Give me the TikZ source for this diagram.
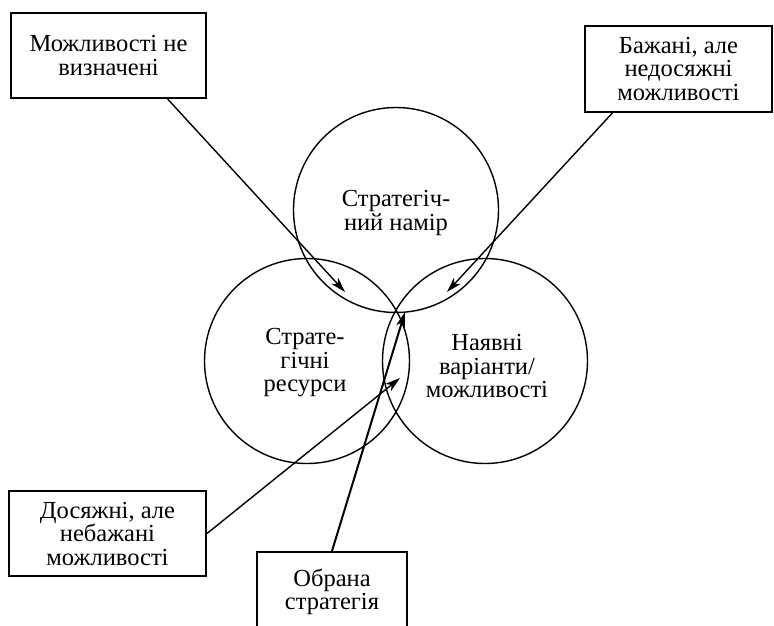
\documentclass[tikz,border=0pt]{standalone}
\usepackage{fontspec}
\setmainfont{Liberation Serif}
\usetikzlibrary{arrows.meta,calc}
\begin{document}
\begin{tikzpicture}[x=1pt,y=-1pt,
  ring/.style={draw,circle,line width=1.4pt,minimum size=205pt,inner sep=0pt,align=center},
  labelbox/.style={draw,line width=2pt,rectangle,inner sep=0pt,align=center},
  conn/.style={line width=1.4pt,-{Stealth[length=15pt,width=9pt,inset=4pt]}},
  connthick/.style={line width=2pt,-{Stealth[length=15pt,width=9pt,inset=4pt]}},
  every node/.style={font=\fontsize{24.5}{23.5}\selectfont}]
\useasboundingbox (0,0) rectangle (774,625);
% circles
\node[ring] (top) at (396,210) {};
\node[ring] (left) at (307,361) {};
\node[ring] (right) at (485,361) {};
\node[align=center] (toptext) at (396,213) {Стратегіч-\\ний намір};
\node[align=center] (lefttext) at (305,363) {Страте-\\гічні\\ресурси};
\node[align=center] (righttext) at (487,366) {Наявні\\варіанти/\\можливості};
% boxes
\node[labelbox,minimum width=195pt,minimum height=85pt] (b1) at (108.5,55.5) {Можливості не\\визначені};
\node[labelbox,minimum width=187pt,minimum height=86pt] (b2) at (678.5,69) {Бажані, але\\недосяжні\\можливості};
\node[labelbox,minimum width=197pt,minimum height=85pt] (b3) at (107.5,533.5) {Досяжні, але\\небажані\\можливості};
\node[labelbox,minimum width=150pt,minimum height=80pt,anchor=north] (b4) at (332,551) {Обрана\\стратегія};
% arrow tips
\coordinate (t1) at (345,292);
\coordinate (t2) at (447,292);
\coordinate (t3) at (400,378);
\coordinate (t4) at (405,312);
% connectors
\draw[conn] ($(b1.south west)!0.8!(b1.south east)$) -- (t1);
\draw[conn] ($(b2.south west)!0.15!(b2.south east)$) -- (t2);
\draw[conn] (b3.east) -- (t3);
\draw[connthick] (b4.north) -- (t4);
\end{tikzpicture}
\end{document}
